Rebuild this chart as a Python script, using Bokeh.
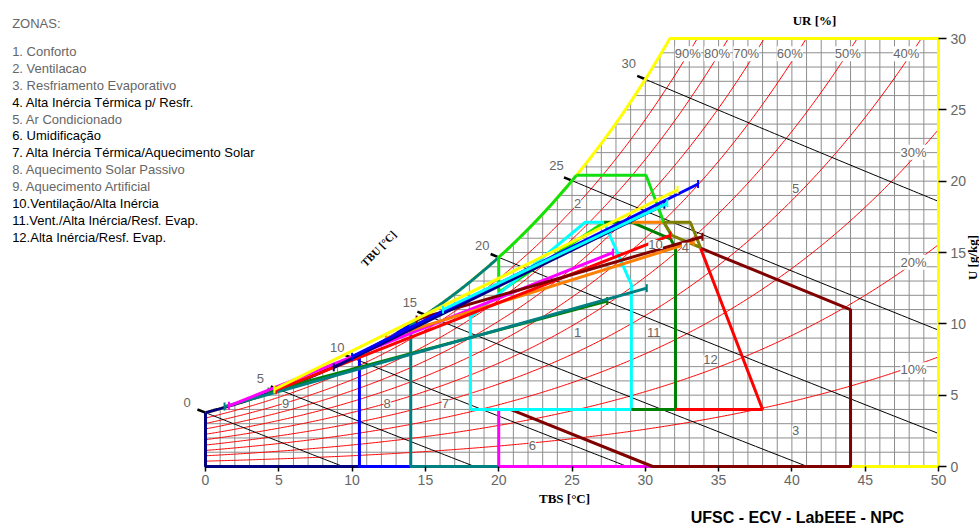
import numpy as np
from bokeh.plotting import figure
from bokeh.models import Range1d, FixedTicker, Label
from bokeh.embed import file_html
from bokeh.resources import INLINE

# ---------------- data ----------------
TBS_TICKS = [0, 5, 10, 15, 20, 25, 30, 35, 40, 45, 50]
U_TICKS = [0, 5, 10, 15, 20, 25, 30]
RH_LEVELS = [0.1, 0.2, 0.3, 0.4, 0.5, 0.6, 0.7, 0.8, 0.9]
TBU_LEVELS = [0, 5, 10, 15, 20, 25, 30]
GRID_T = list(range(0, 51))
GRID_U = list(range(0, 31))

ZONE_TEXTS = ["ZONAS:", "1. Conforto", "2. Ventilacao", "3. Resfriamento Evaporativo",
              "4. Alta Inércia Térmica p/  Resfr.", "5. Ar Condicionado", "6. Umidificação",
              "7. Alta Inércia Térmica/Aquecimento Solar", "8. Aquecimento Solar Passivo",
              "9. Aquecimento Artificial", "10.Ventilação/Alta Inércia",
              "11.Vent./Alta Inércia/Resf. Evap.", "12.Alta Inércia/Resf. Evap."]
ZONE_TEXT_DARK = [False, False, False, False, True, False, True, True, False, False, True, True, True]

# zone boundaries (TBS, U); "sat" spans follow the 100% curve
ZONE9_T = [10.5, 0, 0];              ZONE9_U = [0, 0, 3.77]
ZONE8_T = [14, 10.5, 10.5];          ZONE8_U = [0, 0, 7.88]
ZONE7_T = [20, 14, 14];              ZONE7_U = [0, 0, 9.97]
ZONE6_T = [30.5, 20, 20];            ZONE6_U = [0, 0, 4]
ZONE3_T = [20.8, 30.5, 44, 44, 33.77]; ZONE3_U = [4, 0, 0, 11, 15.3]
ZONE1_T = [18.07, 29.05, 29.05, 27.19, 25.9, 18.07, 18.07]
ZONE1_U = [4, 4, 12.75, 17.12, 17.12, 10.45, 4]
ZONE11_T = [29.05, 32.06, 32.06, 31.72, 29.1, 27.19]
ZONE11_U = [4, 4, 15.3, 15.96, 17.12, 17.12]
ZONE12_T = [32.06, 38, 33.77];       ZONE12_U = [4, 4, 15.3]
ZONE10_T = [29.1, 31.26];            ZONE10_U = [17.12, 17.12]
ZONE4_T = [31.26, 33.07, 33.77, 31.8, 31.26]; ZONE4_U = [17.12, 17.12, 15.35, 16.2, 17.12]
ZONE2_T = [30.05, 31.26, 31.8];      ZONE2_U = [20.41, 17.12, 16.2]
ZONE2B_T = [20, 20, 27.19];          ZONE2B_U = [14.75, 12.2, 17.12]
SAT_SPANS = [("#000080", 0, 10.5), ("#0000ff", 10.5, 14), ("#008080", 14, 20), ("#10e010", 20, 25.3)]

# monthly lines (start/end)
MONTH_COLORS = ["#008000", "#008080", "#ff00ff", "#ff8000", "#ff0000", "#800000",
                "#000080", "#0000ff", "#ffff00", "#00ffff"]
MONTH_T0 = [4.3, 1.3, 1.6, 12.3, 4.8, 14.4, 8.75, 10.0, 4.7, 16.2]
MONTH_U0 = [5.25, 4.2, 4.25, 9.0, 5.35, 10.3, 6.95, 7.7, 5.4, 11.0]
MONTH_T1 = [27.4, 30.1, 27.8, 33.3, 31.7, 33.9, 31.3, 33.6, 32.2, 31.5]
MONTH_U1 = [11.6, 12.5, 15.0, 15.75, 16.2, 16.1, 18.35, 19.8, 19.4, 18.45]

ZONE_NUM = ["1", "2", "3", "4", "5", "6", "7", "8", "9", "10", "11", "12"]
ZONE_NUM_T = [25.38, 25.38, 40.25, 32.74, 40.25, 22.29, 16.37, 12.39, 5.46, 30.70, 30.58, 34.45]
ZONE_NUM_U = [9.39, 18.43, 2.52, 15.37, 19.46, 1.47, 4.39, 4.39, 4.39, 15.56, 9.41, 7.48]
RH_TXT = ["90%", "80%", "70%", "60%", "50%", "40%", "30%", "20%", "10%"]
RH_TXT_T = [32.90, 34.90, 36.88, 39.86, 43.81, 47.80, 48.29, 48.29, 48.29]
RH_TXT_U = [28.93, 28.93, 28.93, 28.93, 28.93, 28.93, 22.03, 14.32, 6.78]
TBU_TXT = ["0", "5", "10", "15", "20", "25", "30"]
TBU_TXT_T = [-1.25, 3.75, 8.98, 13.94, 18.87, 23.94, 28.87]
TBU_TXT_U = [4.51, 6.19, 8.36, 11.47, 15.49, 21.10, 28.23]

# ---------------- psychrometrics ----------------
P_ATM = 101.325


def psat(t):
    t = np.asarray(t, float)
    return 0.61094 * np.exp(17.625 * t / (t + 243.04))


def w_rh(t, rh):
    p = rh * psat(t)
    return 622.0 * p / (P_ATM - p)


def w_sat(t):
    return w_rh(t, 1.0)


def t_dew(w):
    p = w * P_ATM / (622.0 + w)
    a = np.log(p / 0.61094)
    return 243.04 * a / (17.625 - a)


def w_wb(t, twb):
    ws = w_sat(twb) / 1000.0
    return 1000.0 * ((2501 - 2.326 * twb) * ws - 1.006 * (t - twb)) / (2501 + 1.86 * t - 4.186 * twb)


# canvas = frame; 0 degC at x=205 px, 50 degC at 938 px; U 0 at y=466, 30 at y=38
W_PX, H_PX = 979, 525
PPX = 733 / 50.0
PPY = 428 / 30.0
X0, X1 = -205 / PPX, (W_PX - 205) / PPX
Y0, Y1 = (466 - H_PX) / PPY, 466 / PPY

p = figure(width=W_PX, height=H_PX, x_range=Range1d(X0, X1), y_range=Range1d(Y0, Y1),
           output_backend="svg", toolbar_location=None, y_axis_location="right",
           min_border=0, min_border_left=0, min_border_right=0, min_border_top=0,
           min_border_bottom=0, title=None)
p.outline_line_color = None
p.grid.visible = False
p.background_fill_color = "white"
p.border_fill_color = "white"

for ax in (p.xaxis[0], p.yaxis[0]):
    ax.axis_line_color = None
    ax.major_tick_in = 0
    ax.major_tick_line_color = "black"
    ax.major_tick_line_width = 1.5
    ax.minor_tick_line_color = None
    ax.major_label_text_font = "Liberation Sans"
    ax.major_label_text_font_size = "14px"
    ax.major_label_text_color = "#666666"
p.xaxis.ticker = FixedTicker(ticks=TBS_TICKS)
p.yaxis.ticker = FixedTicker(ticks=U_TICKS)
p.xaxis.fixed_location = 0
p.yaxis.fixed_location = 50
p.xaxis.major_tick_out = 5
p.yaxis.major_tick_out = 8
p.xaxis.major_label_standoff = 3
p.yaxis.major_label_standoff = 4

# grid clipped under the saturation curve
gx, gy = [], []
for t in GRID_T:
    gx.append([t, t]); gy.append([0, float(min(w_sat(t), 30))])
for u in GRID_U:
    t0 = 0.0 if u <= w_sat(0) else float(t_dew(u))
    gx.append([t0, 50]); gy.append([u, u])
p.multi_line(gx, gy, line_color="#8e8e8e", line_width=1)

# RH curves
tt = np.linspace(0, 50, 501)
rx, ry = [], []
for r in RH_LEVELS:
    w = w_rh(tt, r)
    m = w <= 30
    xs = list(tt[m]); ys = list(w[m])
    if not m.all():
        xs.append(float(np.interp(30, w, tt))); ys.append(30.0)
    rx.append(xs); ry.append(ys)
p.multi_line(rx, ry, line_color="#ff0000", line_width=1)

# wet bulb lines
bx, by, dx, dy = [], [], [], []
for twb in TBU_LEVELS:
    ws = float(w_sat(twb))
    tz = twb + (2501 - 2.326 * twb) * ws / 1000.0 / 1.006
    tend = min(50.0, tz)
    ts = np.linspace(twb, tend, 60)
    bx.append(list(ts)); by.append(list(np.maximum(w_wb(ts, twb), 0)))
    dx.append([twb - 0.55, twb]); dy.append([float(w_wb(twb - 0.55, twb)), ws])
p.multi_line(bx, by, line_color="black", line_width=1)
p.multi_line(dx, dy, line_color="black", line_width=2.5)

# chart border (yellow)
t30 = float(t_dew(30))
ts = np.linspace(0, t30, 120)
p.line(list(ts) + [50, 50, 44], list(w_sat(ts)) + [30, 0, 0], line_color="#ffff00", line_width=3)

LW = 3
for col, a, b in SAT_SPANS:
    ts = np.linspace(a, b, 60)
    p.line(ts, w_sat(ts), line_color=col, line_width=LW)

for col, T, U in [("#000080", ZONE9_T, ZONE9_U), ("#0000ff", ZONE8_T, ZONE8_U),
                  ("#008080", ZONE7_T, ZONE7_U), ("#ff00ff", ZONE6_T, ZONE6_U),
                  ("#800000", ZONE3_T, ZONE3_U), ("#10e010", ZONE2B_T, ZONE2B_U),
                  ("#00ffff", ZONE1_T, ZONE1_U), ("#008000", ZONE11_T, ZONE11_U),
                  ("#ff0000", ZONE12_T, ZONE12_U), ("#ff8000", ZONE10_T, ZONE10_U),
                  ("#10e010", [25.3] + ZONE2_T, [float(w_sat(25.3))] + ZONE2_U),
                  ("#808000", ZONE4_T, ZONE4_U)]:
    p.line(T, U, line_color=col, line_width=LW)

# monthly lines with end caps
for c, a0, b0, a1, b1 in zip(MONTH_COLORS, MONTH_T0, MONTH_U0, MONTH_T1, MONTH_U1):
    p.line([a0, a1], [b0, b1], line_color=c, line_width=LW)
    p.segment(x0=[a0, a1], y0=[b0 - 0.28, b1 - 0.28], x1=[a0, a1], y1=[b0 + 0.28, b1 + 0.28],
              line_color=c, line_width=2)


def lab(x, y, text, size="13px", color="#666666", font="Liberation Sans", style="normal",
        align="center", angle=0.0, bg=None):
    kw = dict(x=x, y=y, text=text, text_font=font, text_font_size=size, text_color=color,
              text_font_style=style, text_align=align, text_baseline="middle", angle=angle)
    if bg:
        kw["background_fill_color"] = bg
    p.add_layout(Label(**kw))


for t, x, y in zip(ZONE_NUM, ZONE_NUM_T, ZONE_NUM_U):
    lab(x, y, t, bg="white")
for t, x, y in zip(RH_TXT, RH_TXT_T, RH_TXT_U):
    lab(x, y, t, bg="white")
for t, x, y in zip(TBU_TXT, TBU_TXT_T, TBU_TXT_U):
    lab(x, y, t)

# legend text on the left
for i, (t, dark) in enumerate(zip(ZONE_TEXTS, ZONE_TEXT_DARK)):
    yy = 31.07 if i == 0 else 29.09 - (i - 1) * 1.1846
    lab(-13.19, yy, t, color="black" if dark else "#666666", align="left")

lab(24.49, -2.24, "TBS [°C]", size="13px", color="black", font="Liberation Serif", style="bold")
lab(41.54, 31.26, "UR [%]", size="13px", color="black", font="Liberation Serif", style="bold")
lab(52.3, 14.65, "U [g/kg]", size="13px", color="black", font="Liberation Serif", style="bold",
    angle=np.pi / 2)
lab(11.8, 15.28, "TBU [°C]", size="11px", color="black", font="Liberation Serif", style="bold",
    angle=0.8)
lab(40.38, -3.575, "UFSC - ECV - LabEEE - NPC", size="16px", color="black", style="bold")

open("out.html", "w").write(file_html(p, INLINE))
